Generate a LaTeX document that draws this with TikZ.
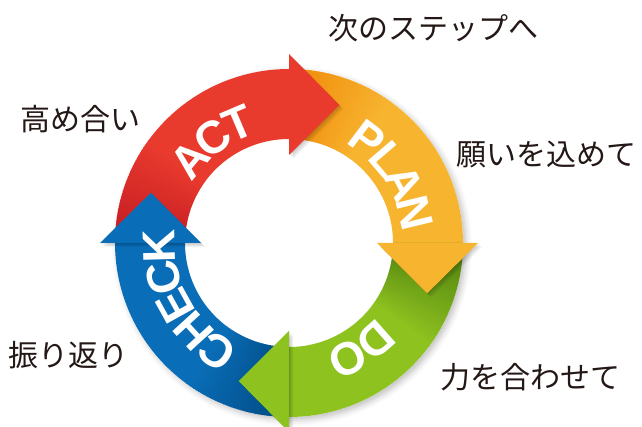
\documentclass[tikz,border=0pt]{standalone}
\usepackage{fontspec}
\usepackage{xcolor}
\usetikzlibrary{
    decorations.text,
    shadows.blur,
    positioning
}
\newfontfamily\jpfont{Noto Sans CJK JP}
\newfontfamily\capsfont{Liberation Sans}
\newcommand{\ringfont}{\capsfont\bfseries\fontsize{46}{46}\selectfont}

\definecolor{actred}{HTML}{E83A2D}
\definecolor{actdark}{HTML}{C41B22}
\definecolor{planorange}{HTML}{F7B42F}
\definecolor{plandark}{HTML}{EF8A0A}
\definecolor{dogreen}{HTML}{8DC21F}
\definecolor{dodark}{HTML}{4F7E0F}
\definecolor{checkblue}{HTML}{0A6DB7}
\definecolor{checkdark}{HTML}{004B82}
\definecolor{ink}{HTML}{231815}

\tikzset{
    note/.style={font=\jpfont\fontsize{30}{30}\selectfont, text=ink, inner sep=0pt},
    ringword/.style={decorate, decoration={text along path, text align=center, raise=-22pt, text color=white, text={|\ringfont|#1}}}
}

\begin{document}
\begin{tikzpicture}[x=1pt, y=1pt]
    \useasboundingbox (0, 0) rectangle (642, 427);

    \begin{scope}[shift={(289, 184)}]
        \fill[white, blur shadow={shadow xshift=3pt, shadow yshift=-3pt, shadow blur radius=6pt, shadow opacity=25}] (0, 0) circle (174);

        \foreach \s/\c/\d in {180/actred/actdark, 90/planorange/plandark, 0/dogreen/dodark, -90/checkblue/checkdark} {
            \foreach \k in {0,...,35} {
                \pgfmathtruncatemacro{\p}{100 * \k / 35}
                \fill[\c!\p!\d] (\s - \k : 174) arc[start angle=\s - \k, end angle=\s - \k - 1.5, radius=174]
                    -- (\s - \k - 1.5 : 104) arc[start angle=\s - \k - 1.5, end angle=\s - \k, radius=104] -- cycle;
            }
            \fill[\c] (\s - 36 : 174) arc[start angle=\s - 36, end angle=\s - 90, radius=174]
                -- (\s - 90 : 104) arc[start angle=\s - 90, end angle=\s - 36, radius=104] -- cycle;
        }

        \foreach \e in {90, 0, -90, 180} {
            \foreach \o in {1,...,6} {
                \fill[black, opacity=0.035, xshift=\o * 0.7, yshift=-\o * 0.7] (\e : 88) -- (\e - 20 : 147) -- (\e : 189) -- cycle;
            }
        }
        \foreach \e/\c in {90/actred, 0/planorange, -90/dogreen, 180/checkblue} {
            \fill[\c] (\e : 88) -- (\e - 20 : 147) -- (\e : 189) -- cycle;
        }

        \path[ringword=ACT] (182 : 136) arc[start angle=182, end angle=72, radius=136];
        \path[ringword=PLAN] (88 : 136) arc[start angle=88, end angle=-22, radius=136];
        \path[ringword=DO] (-1 : 136) arc[start angle=-1, end angle=-111, radius=136];
        \path[ringword=CHECK] (-96 : 136) arc[start angle=-96, end angle=-206, radius=136];
    \end{scope}

    \node[note] (next) at (433, 399) {次のステップへ};
    \node[note] (raise) at (80, 308) {高め合い};
    \node[note] (wish) at (546, 273) {願いを込めて};
    \node[note] (review) at (69, 72) {振り返り};
    \node[note] (unite) at (530, 50) {力を合わせて};
\end{tikzpicture}
\end{document}
